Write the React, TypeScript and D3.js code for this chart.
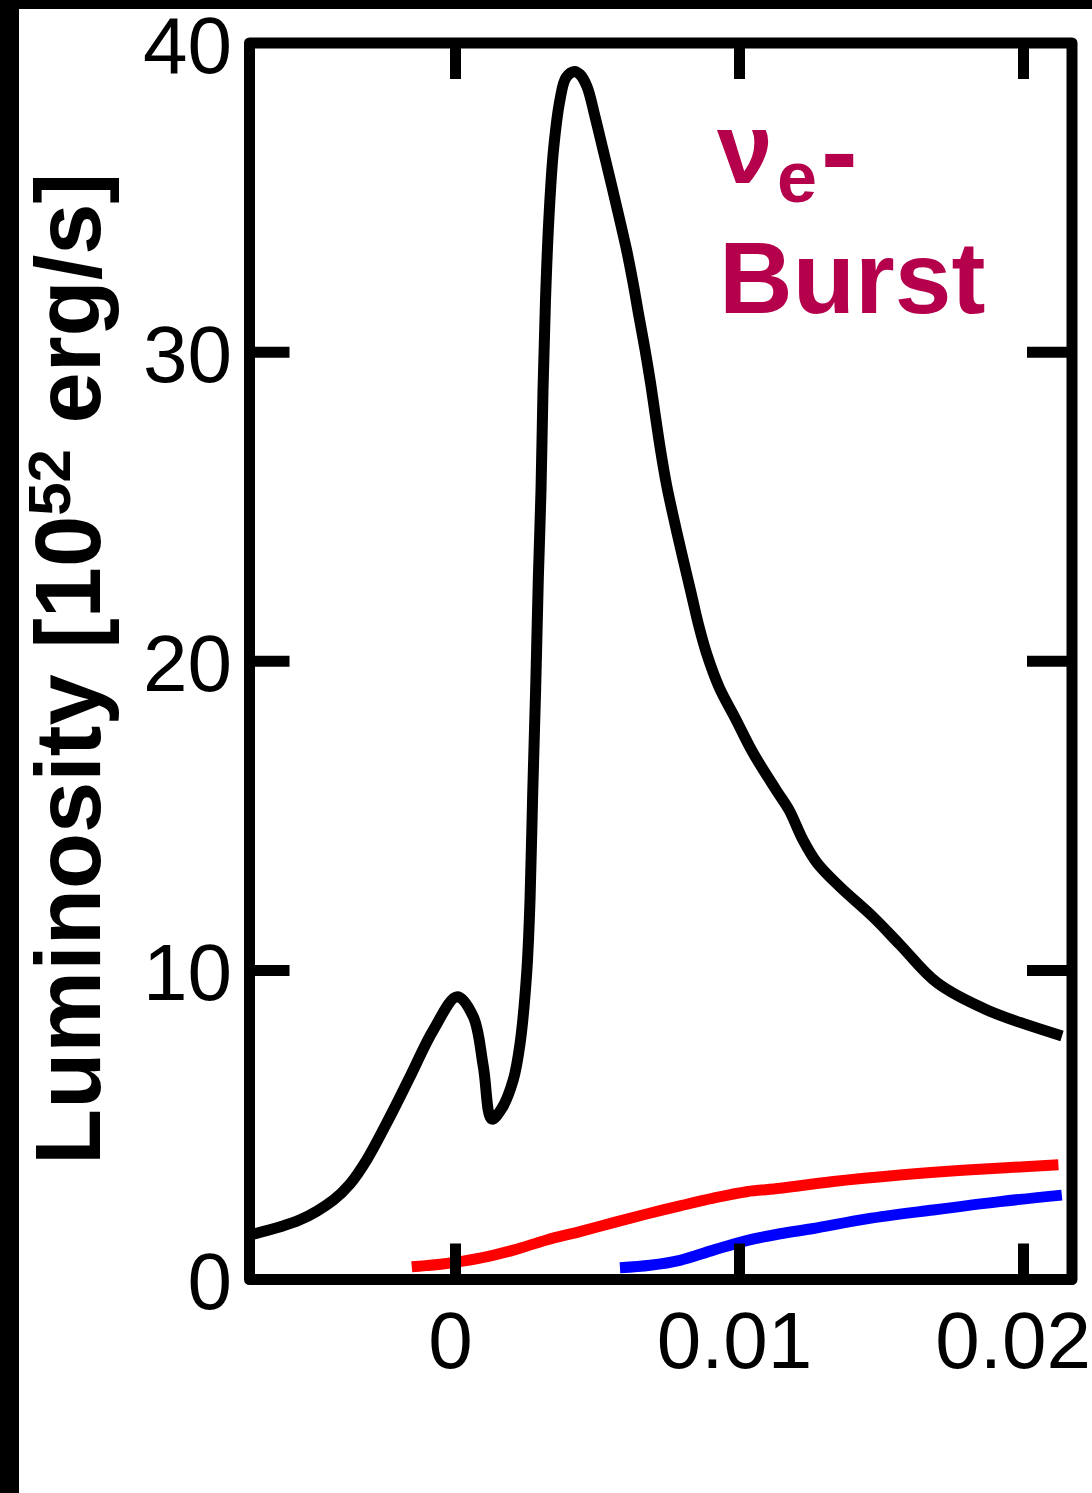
import React from "react";
import * as d3 from "d3";

// Electron-neutrino luminosity (black)
const nueTime = [-0.007236, -0.005475, -0.004303, -0.003715, -0.003127, -0.002306, -0.001602, -0.000782, 0.000063, 0.000627, 0.000979, 0.001275, 0.001627, 0.002035, 0.002271, 0.002507, 0.002623, 0.002718, 0.002824, 0.002915, 0.003011, 0.003081, 0.003169, 0.003292, 0.003451, 0.00368, 0.003891, 0.00419, 0.004384, 0.00463, 0.004912, 0.005194, 0.005475, 0.005757, 0.006021, 0.00625, 0.006461, 0.006673, 0.006866, 0.007042, 0.007218, 0.00743, 0.007694, 0.007975, 0.008292, 0.008574, 0.008856, 0.009278, 0.009877, 0.010475, 0.011285, 0.011743, 0.012236, 0.012729, 0.013539, 0.014701, 0.015651, 0.016954, 0.018715, 0.021356];
const nueLum = [1.44, 1.93, 2.57, 3.09, 3.87, 5.27, 6.56, 8.07, 9.15, 8.5, 6.89, 5.19, 5.53, 6.46, 7.62, 9.92, 12.25, 15.71, 19.17, 22.64, 25.55, 28.79, 31.7, 34.39, 36.55, 38.17, 38.88, 39.08, 38.98, 38.59, 37.62, 36.55, 35.48, 34.38, 33.32, 32.25, 31.15, 30.08, 29.01, 27.91, 26.84, 25.71, 24.58, 23.45, 22.22, 21.12, 20.21, 19.17, 18.11, 17.04, 15.84, 15.19, 14.22, 13.48, 12.7, 11.73, 10.83, 9.6, 8.72, 7.88];

// Electron-antineutrino luminosity (red)
const anueTime = [-0.00154, -0.00031, 0.00086, 0.00204, 0.00321, 0.00438, 0.00556, 0.00673, 0.0079, 0.00908, 0.01025, 0.01143, 0.0133, 0.01565, 0.018, 0.02123];
const anueLum = [0.41, 0.52, 0.69, 0.95, 1.28, 1.55, 1.84, 2.12, 2.38, 2.63, 2.84, 2.95, 3.17, 3.38, 3.54, 3.71];

// Heavy-lepton neutrino luminosity (blue)
const nuxTime = [0.00579, 0.00685, 0.0079, 0.00908, 0.01025, 0.01143, 0.0126, 0.01448, 0.01682, 0.01917, 0.02135];
const nuxLum = [0.38, 0.46, 0.62, 0.95, 1.26, 1.48, 1.65, 1.96, 2.25, 2.52, 2.73];

const xTicks = [0, 0.01, 0.02];
const xTickLabels = ["0", "0.01", "0.02"];
const yTicks = [0, 10, 20, 30, 40];
const yTickLabels = ["0", "10", "20", "30", "40"];

const W = 1092;
const H = 1493;
const left = 249.5;
const right = 1072;
const top = 43;
const bottom = 1279.5;
const FONT = "'Liberation Sans', Arial, Helvetica, sans-serif";
const BURST = "#B5004B";
const TICK_FONT = 80;

// rough advance width of a numeric label in the tick font
const labelWidth = (s: string) =>
  s.split("").reduce((w, c) => w + (c === "." ? 0.278 : 0.556), 0) * TICK_FONT;

export default function App() {
  const x = d3.scaleLinear().domain([-0.007254, 0.021708]).range([left, right]);
  const y = d3.scaleLinear().domain([0, 40]).range([bottom, top]);

  const line = d3
    .line<[number, number]>()
    .x((d) => x(d[0]))
    .y((d) => y(d[1]))
    .curve(d3.curveCatmullRom.alpha(0.5));

  const series = [
    { t: nueTime, v: nueLum, color: "#000000" },
    { t: anueTime, v: anueLum, color: "#FF0000" },
    { t: nuxTime, v: nuxLum, color: "#0000FF" },
  ];

  const innerY = yTicks.filter((v) => v > 0 && v < 40);

  return (
    <svg
      width={W}
      height={H}
      viewBox={`0 0 ${W} ${H}`}
      style={{ position: "absolute", left: 0, top: 0, display: "block", background: "#fff" }}
    >
      <rect x={0} y={0} width={W} height={H} fill="#fff" />
      <rect x={0} y={0} width={W} height={9} fill="#000" />
      <rect x={0} y={0} width={19} height={H} fill="#000" />

      {series.map((s, i) => (
        <path
          key={i}
          d={line(s.t.map((t, j) => [t, s.v[j]] as [number, number])) || ""}
          fill="none"
          stroke={s.color}
          strokeWidth={11}
          strokeLinejoin="round"
          strokeLinecap="butt"
        />
      ))}

      {/* ticks */}
      {innerY.map((v) => (
        <g key={"yt" + v}>
          <line x1={left} x2={left + 40} y1={y(v)} y2={y(v)} stroke="#000" strokeWidth={11} />
          <line x1={right - 45} x2={right} y1={y(v)} y2={y(v)} stroke="#000" strokeWidth={11} />
        </g>
      ))}
      {xTicks.map((t) => (
        <g key={"xt" + t}>
          <line x1={x(t)} x2={x(t)} y1={bottom} y2={bottom - 36} stroke="#000" strokeWidth={11} />
          <line x1={x(t)} x2={x(t)} y1={top} y2={top + 36} stroke="#000" strokeWidth={11} />
        </g>
      ))}

      <rect
        x={left}
        y={top}
        width={right - left}
        height={bottom - top}
        fill="none"
        stroke="#000"
        strokeWidth={11}
        strokeLinejoin="round"
      />

      {/* tick labels */}
      {yTicks.map((v, i) => (
        <text
          key={"yl" + v}
          x={232}
          y={y(v) + 1}
          dy="0.36em"
          textAnchor="end"
          fontFamily={FONT}
          fontSize={TICK_FONT}
          fill="#000"
        >
          {yTickLabels[i]}
        </text>
      ))}
      {xTicks.map((t, i) => {
        const half = labelWidth(xTickLabels[i]) / 2;
        const cx = Math.min(x(t) - 5, W - 1 - half);
        return (
          <text
            key={"xl" + t}
            x={cx}
            y={bottom + 88}
            textAnchor="middle"
            fontFamily={FONT}
            fontSize={TICK_FONT}
            fill="#000"
          >
            {xTickLabels[i]}
          </text>
        );
      })}

      {/* axis title */}
      <text
        transform="translate(100, 669) rotate(-90)"
        textAnchor="middle"
        fontFamily={FONT}
        fontWeight="bold"
        fontSize={92}
        fill="#000"
      >
        Luminosity [10
        <tspan dy={-30} fontSize={60}>
          52
        </tspan>
        <tspan dy={30}> erg/s]</tspan>
      </text>

      {/* annotation */}
      <text fontFamily={FONT} fontWeight="bold" fill={BURST}>
        <tspan x={717} y={183} fontSize={100}>
          ν
        </tspan>
        <tspan x={777} y={202} fontSize={72}>
          e
        </tspan>
        <tspan x={821} y={189} fontSize={110}>
          -
        </tspan>
      </text>
      <text x={719} y={313} fontFamily={FONT} fontWeight="bold" fontSize={102} fill={BURST}>
        Burst
      </text>
    </svg>
  );
}
